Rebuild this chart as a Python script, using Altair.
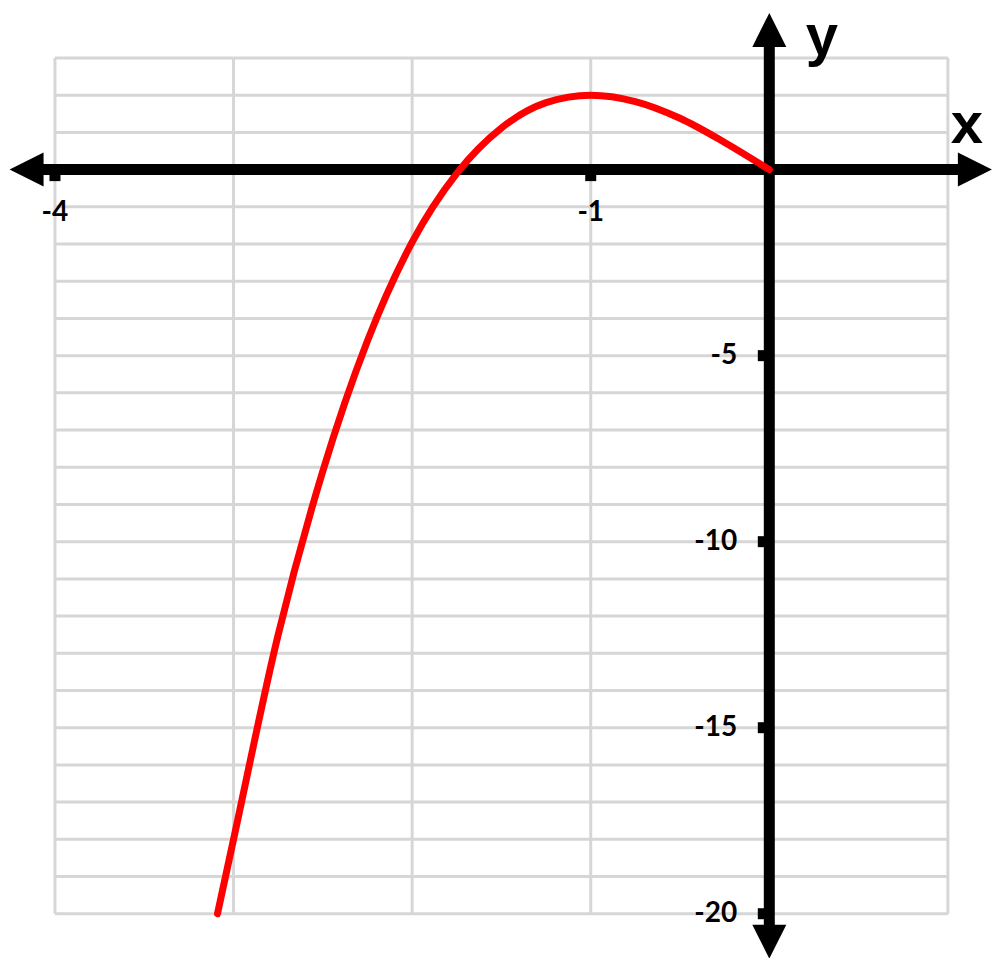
import altair as alt
import pandas as pd

# ---- data ----
curve_x = [-3.09, -3.0, -2.75, -2.5, -2.25, -2.0, -1.75, -1.5, -1.25, -1.0, -0.75, -0.5, -0.25, 0.0]
curve_y = [-20.0, -18.0, -12.5, -8.1, -4.6, -1.95, -0.1, 1.12, 1.8, 2.0, 1.83, 1.38, 0.73, 0.0]

grid_x = [-4, -3, -2, -1, 0, 1]
grid_y = list(range(-20, 4))

x_tick_vals = [-4, -1]
x_tick_labels = ["-4", "-1"]
y_tick_vals = [-5, -10, -15, -20]
y_tick_labels = ["-5", "-10", "-15", "-20"]

x_axis_span = [-4.16, 1.15]
y_axis_span = [-20.75, 3.75]

arrow_x = [0.0, 0.0, -4.159, 1.151]
arrow_y = [3.753, -20.75, 0.0, 0.0]
arrow_angle = [0, 180, 270, 90]

letters = ["y", "x"]
letter_x = [0.295, 1.107]
letter_y = [3.08, 0.715]

XDOM = [-4.263, 1.247]
YDOM = [-21.19, 4.344]
W, H = 984, 950

xs = alt.Scale(domain=XDOM, nice=False, zero=False)
ys = alt.Scale(domain=YDOM, nice=False, zero=False)


def X(f):
    return alt.X(f, type="quantitative", scale=xs, axis=None)


def Y(f):
    return alt.Y(f, type="quantitative", scale=ys, axis=None)


GRID = "#d6d6d6"

vgrid = alt.Chart(pd.DataFrame({"x": grid_x, "y1": [-20] * len(grid_x), "y2": [3] * len(grid_x)})).mark_rule(
    color=GRID, strokeWidth=3
).encode(x=X("x"), y=Y("y1"), y2="y2")

hgrid = alt.Chart(pd.DataFrame({"y": grid_y, "x1": [-4] * len(grid_y), "x2": [1] * len(grid_y)})).mark_rule(
    color=GRID, strokeWidth=3
).encode(y=Y("y"), x=X("x1"), x2="x2")

xticks = alt.Chart(pd.DataFrame({"x": x_tick_vals, "y": [0] * len(x_tick_vals)})).mark_square(
    color="black", filled=True, opacity=1, size=121, yOffset=6
).encode(x=X("x"), y=Y("y"))

yticks = alt.Chart(pd.DataFrame({"x": [0] * len(y_tick_vals), "y": y_tick_vals})).mark_square(
    color="black", filled=True, opacity=1, size=121, xOffset=-6
).encode(x=X("x"), y=Y("y"))

xaxis = alt.Chart(pd.DataFrame({"x1": [x_axis_span[0]], "x2": [x_axis_span[1]], "y": [0]})).mark_rule(
    color="black", strokeWidth=11, strokeCap="butt"
).encode(x=X("x1"), x2="x2", y=Y("y"))

yaxis = alt.Chart(pd.DataFrame({"x": [0], "y1": [y_axis_span[0]], "y2": [y_axis_span[1]]})).mark_rule(
    color="black", strokeWidth=11, strokeCap="butt"
).encode(x=X("x"), y=Y("y1"), y2="y2")

arrows = alt.Chart(pd.DataFrame({"x": arrow_x, "y": arrow_y, "a": arrow_angle})).mark_point(
    shape="M0,-1L1,1L-1,1Z", filled=True, color="black", opacity=1, size=1156, strokeWidth=0
).encode(x=X("x"), y=Y("y"), angle=alt.Angle("a:Q", scale=None))

xlabels = alt.Chart(pd.DataFrame({"x": x_tick_vals, "y": [0] * len(x_tick_vals), "t": x_tick_labels})).mark_text(
    font="Lato", fontSize=28, fontWeight="bold", align="center", baseline="middle", dy=43, color="black"
).encode(x=X("x"), y=Y("y"), text="t:N")

ylabels = alt.Chart(pd.DataFrame({"x": [0] * len(y_tick_vals), "y": y_tick_vals, "t": y_tick_labels})).mark_text(
    font="Lato", fontSize=28, fontWeight="bold", align="right", baseline="middle", dx=-32, color="black"
).encode(x=X("x"), y=Y("y"), text="t:N")

letter_marks = alt.Chart(pd.DataFrame({"x": letter_x, "y": letter_y, "t": letters})).mark_text(
    font="Liberation Sans", fontSize=58, fontWeight="bold", align="center", baseline="alphabetic", color="black"
).encode(x=X("x"), y=Y("y"), text="t:N")

curve = alt.Chart(pd.DataFrame({"x": curve_x, "y": curve_y})).mark_line(
    color="#ff0000", strokeWidth=7, interpolate="monotone", strokeCap="round"
).encode(x=X("x"), y=Y("y"), order="x:Q")

chart = alt.layer(
    vgrid, hgrid, xticks, yticks, xaxis, yaxis, arrows, xlabels, ylabels, letter_marks, curve
).properties(
    width=W, height=H, padding=0, autosize=alt.AutoSizeParams(type="none"), background="white"
).configure_view(strokeWidth=0)

chart.save("out.html", embed_options={"renderer": "svg", "actions": False})
